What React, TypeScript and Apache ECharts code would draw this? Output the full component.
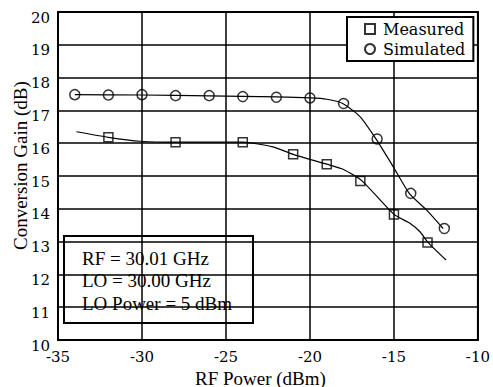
import React, { useEffect, useRef } from "react";
import * as echarts from "echarts";

const xTicks = [-35, -30, -25, -20, -15, -10];
const yTicks = [10, 11, 12, 13, 14, 15, 16, 17, 18, 19, 20];

const measuredX = [-32, -28, -24, -21, -19, -17, -15, -13];
const measuredY = [16.18, 16.03, 16.03, 15.66, 15.36, 14.85, 13.83, 12.97];

const simulatedX = [-34, -32, -30, -28, -26, -24, -22, -20, -18, -16, -14, -12];
const simulatedY = [17.48, 17.47, 17.48, 17.45, 17.45, 17.42, 17.4, 17.38, 17.21, 16.13, 14.47, 13.4];

const measuredFitX = [-33.9, -32, -30.1, -28, -24, -22.2, -21, -19, -18, -16.9, -15, -14.05, -13.45, -12.96, -11.9];
const measuredFitY = [16.35, 16.18, 16.06, 16.03, 16.03, 15.89, 15.66, 15.36, 15.2, 14.85, 13.83, 13.56, 13.3, 12.97, 12.44];

const simulatedFitX = [-34, -30, -26, -22, -20, -19, -18.05, -17.02, -16.07, -15.04, -14.09, -13.05, -12.07];
const simulatedFitY = [17.48, 17.47, 17.44, 17.41, 17.38, 17.34, 17.21, 16.81, 16.13, 15.28, 14.47, 13.96, 13.4];

const annotation = ["RF = 30.01 GHz", "LO = 30.00 GHz", "LO Power = 5 dBm"];
const xTitle = "RF Power (dBm)";
const yTitle = "Conversion Gain (dB)";

const FONT = "Liberation Serif";
const FONT2 = "DejaVu Serif";

function pairs(xs: number[], ys: number[]) {
  return xs.map((x, i) => [x, ys[i]]);
}

export default function App() {
  const ref = useRef<HTMLDivElement>(null);
  useEffect(() => {
    if (!ref.current) return;
    const chart = echarts.init(ref.current, null, { renderer: "svg" });
    chart.setOption({
      animation: false,
      backgroundColor: "#fff",
      textStyle: { fontFamily: FONT2, color: "#000" },
      grid: {
        left: 58,
        right: 15,
        top: 12,
        bottom: 47,
        show: true,
        borderColor: "#000",
        borderWidth: 2,
      },
      xAxis: {
        type: "value",
        min: xTicks[0],
        max: xTicks[xTicks.length - 1],
        interval: 5,
        axisLine: { lineStyle: { color: "#000", width: 2 } },
        axisTick: { show: false },
        splitLine: { show: true, lineStyle: { color: "#000", width: 1.5 } },
        axisLabel: {
          fontFamily: FONT2,
          fontSize: 15,
          color: "#000",
          margin: 9,
          formatter: "{v|{value}}",
          rich: { v: { fontFamily: FONT2, fontSize: 15, color: "#000" } },
        },
      },
      yAxis: {
        type: "value",
        min: yTicks[0],
        max: yTicks[yTicks.length - 1],
        interval: 1,
        axisLine: { lineStyle: { color: "#000", width: 2 } },
        axisTick: { show: false },
        splitLine: { show: true, lineStyle: { color: "#000", width: 1.5 } },
        axisLabel: {
          fontFamily: FONT2,
          fontSize: 15,
          color: "#000",
          margin: 8,
          verticalAlign: "middle",
          padding: [11, 0, 0, 0],
          formatter: "{v|{value}}",
          rich: { v: { fontFamily: FONT2, fontSize: 15, color: "#000" } },
        },
      },
      legend: {
        data: ["Measured", "Simulated"],
        orient: "vertical",
        left: 347,
        top: 17,
        backgroundColor: "#fff",
        borderColor: "#000",
        borderWidth: 2,
        borderRadius: 0,
        padding: [2, 8, 2, 17],
        itemWidth: 10,
        itemHeight: 10,
        itemGap: 0,
        textStyle: { fontFamily: FONT2, fontSize: 16, color: "#000", lineHeight: 20, padding: [0, 0, 0, 3] },
        selectedMode: false,
      },
      graphic: [
        {
          type: "group",
          z: 100,
          children: [
            {
              type: "rect",
              shape: { x: 64, y: 236, width: 189, height: 87 },
              style: { fill: "#fff", stroke: "#000", lineWidth: 2 },
            },
            ...annotation.map((t, i) => ({
              type: "text",
              x: 82,
              y: 258 + i * 22.5,
              style: {
                text: t,
                fontFamily: FONT,
                fontSize: 19,
                fill: "#000",
                verticalAlign: "middle",
              },
            })),
          ],
        },
        {
          type: "text",
          x: 20,
          y: 250,
          rotation: Math.PI / 2,
          style: {
            text: yTitle,
            fontFamily: FONT,
            fontSize: 19,
            fill: "#000",
            verticalAlign: "middle",
          },
        },
        {
          type: "text",
          x: 195,
          y: 378,
          style: {
            text: xTitle,
            fontFamily: FONT,
            fontSize: 19,
            fill: "#000",
            verticalAlign: "middle",
          },
        },
      ],
      series: [
        {
          name: "Measured fit",
          type: "line",
          data: pairs(measuredFitX, measuredFitY),
          showSymbol: false,
          smooth: 0.2,
          lineStyle: { color: "#000", width: 1.2 },
          z: 2,
          silent: true,
        },
        {
          name: "Simulated fit",
          type: "line",
          data: pairs(simulatedFitX, simulatedFitY),
          showSymbol: false,
          smooth: 0.2,
          lineStyle: { color: "#000", width: 1.2 },
          z: 2,
          silent: true,
        },
        {
          name: "Measured",
          type: "scatter",
          data: pairs(measuredX, measuredY),
          symbol: "rect",
          symbolSize: 9,
          itemStyle: { color: "rgba(255,255,255,0)", borderColor: "#000", borderWidth: 1.5 },
          z: 3,
        },
        {
          name: "Simulated",
          type: "scatter",
          data: pairs(simulatedX, simulatedY),
          symbol: "circle",
          symbolSize: 10,
          itemStyle: { color: "rgba(255,255,255,0)", borderColor: "#000", borderWidth: 1.5 },
          z: 3,
        },
      ],
    });
    return () => chart.dispose();
  }, []);
  return (
    <div
      ref={ref}
      style={{ position: "absolute", left: 0, top: 0, width: 493, height: 387 }}
    />
  );
}
